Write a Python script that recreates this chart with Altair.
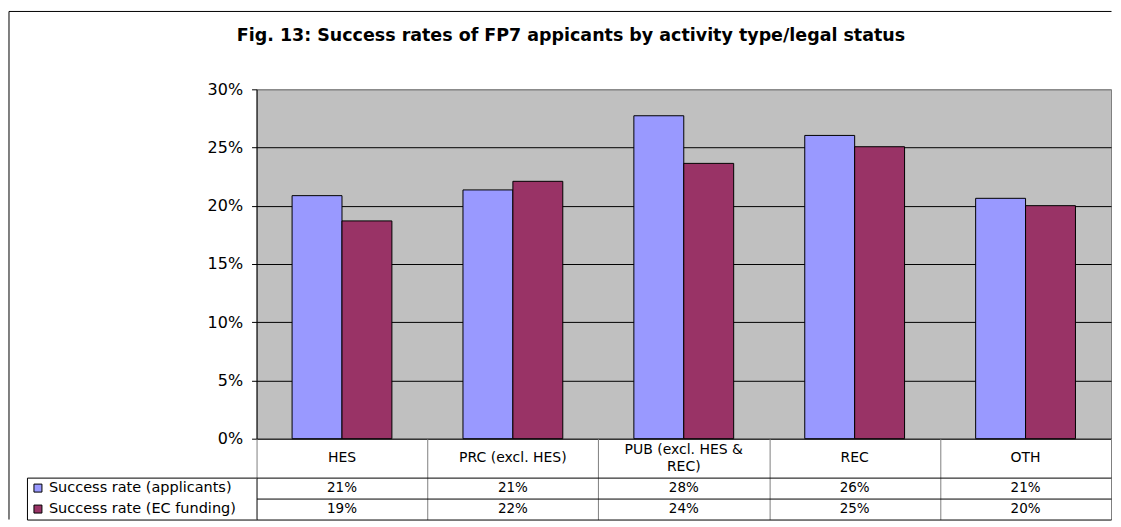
import altair as alt
import pandas as pd

# ---------------- data ----------------
categories = ["HES", "PRC (excl. HES)", "PUB (excl. HES & REC)", "REC", "OTH"]
header_labels = ["HES", "PRC (excl. HES)", "PUB (excl. HES &\nREC)", "REC", "OTH"]
series = ["Success rate (applicants)", "Success rate (EC funding)"]
applicants = [0.2087, 0.2136, 0.2773, 0.2604, 0.2064]
ec_funding = [0.1870, 0.2210, 0.2364, 0.2507, 0.2001]
colors = ["#9999FF", "#993366"]
y_ticks = [0, 0.05, 0.10, 0.15, 0.20, 0.25, 0.30]
title_text = "Fig. 13: Success rates of FP7 appicants by activity type/legal status"

FONT = "DejaVu Sans"

rows = []
for i, c in enumerate(categories):
    rows.append({"category": c, "series": series[0], "value": applicants[i]})
    rows.append({"category": c, "series": series[1], "value": ec_funding[i]})
df = pd.DataFrame(rows)

hdr_rows = []
for c, lab in zip(categories, header_labels):
    parts = lab.split("\n")
    for k, p in enumerate(parts):
        hdr_rows.append({"category": c, "line": p, "pos": k - (len(parts) - 1) / 2})
hdr = pd.DataFrame(hdr_rows)
leg = pd.DataFrame({"series": series})
dummy = pd.DataFrame({"a": [0]})

PLOT_W, PLOT_H = 856, 350
LEG_W = 230
HDR_H = 39
VAL_H = 42

x_scale = alt.Scale(domain=categories, paddingInner=0, paddingOuter=0)
color_scale = alt.Scale(domain=series, range=colors)
row_scale = alt.Scale(domain=series, paddingInner=0, paddingOuter=0)

no_stroke = alt.ViewBackground(stroke="transparent")

# ---------------- outer frame (top-left cell) ----------------
frame_top = alt.Chart(dummy).mark_rule(color="black", strokeWidth=1).encode(
    x=alt.value(-18), x2=alt.value(LEG_W + PLOT_W + 0.5), y=alt.value(-78)
)
frame_left = alt.Chart(dummy).mark_rule(color="black", strokeWidth=1).encode(
    x=alt.value(-18), y=alt.value(-78), y2=alt.value(PLOT_H + HDR_H + VAL_H)
)
frame = alt.layer(frame_top, frame_left).properties(
    width=LEG_W, height=PLOT_H, view=no_stroke
)

# ---------------- bars ----------------
bars = alt.Chart(df).mark_bar(stroke="black", strokeWidth=1).encode(
    x=alt.X("category:N", scale=x_scale, axis=None),
    xOffset=alt.XOffset(
        "series:N",
        scale=alt.Scale(domain=series, paddingInner=0, paddingOuter=0.712),
    ),
    y=alt.Y(
        "value:Q",
        scale=alt.Scale(domain=[0, 0.3], nice=False),
        axis=alt.Axis(
            values=y_ticks,
            format=".0%",
            title=None,
            labelFont=FONT,
            labelFontSize=16,
            labelColor="black",
            labelPadding=9,
            tickSize=5,
            tickColor="black",
            domainColor="black",
            grid=True,
            gridOpacity=1,
            gridWidth=1,
            gridColor={
                "condition": {"test": "datum.value >= 0.3", "value": "#808080"},
                "value": "#000000",
            },
        ),
    ),
    color=alt.Color("series:N", scale=color_scale, legend=None),
).properties(
    width=PLOT_W,
    height=PLOT_H,
    view=alt.ViewBackground(fill="#C0C0C0", stroke="#808080"),
    title=alt.TitleParams(
        text=title_text,
        font=FONT,
        fontSize=17.5,
        fontWeight="bold",
        color="black",
        anchor="middle",
        frame="group",
        dx=-113,
        offset=23,
        baseline="alphabetic",
    ),
)

# ---------------- table header ----------------
blank = alt.Chart(dummy).mark_point(opacity=0).encode(
    x=alt.value(0), y=alt.value(0)
).properties(width=LEG_W, height=HDR_H, view=no_stroke)

grid_x_axis = alt.Axis(
    grid=True,
    tickBand="extent",
    labels=False,
    ticks=False,
    domain=False,
    title=None,
    gridWidth=1,
    gridOpacity=1,
    gridColor="#808080",
)

header = alt.Chart(hdr).mark_text(
    font=FONT, fontSize=14, color="black", baseline="middle"
).encode(
    x=alt.X("category:N", scale=x_scale, axis=grid_x_axis),
    y=alt.Y("pos:Q", scale=alt.Scale(domain=[1.15, -1.15]), axis=None),
    text="line:N",
).properties(width=PLOT_W, height=HDR_H, view=no_stroke)

# ---------------- table values ----------------
grid_y_axis = alt.Axis(
    grid=True,
    tickBand="extent",
    labels=False,
    ticks=False,
    domain=False,
    title=None,
    gridWidth=1,
    gridOpacity=1,
    gridColor="#000000",
)

vals = alt.Chart(df).mark_text(font=FONT, fontSize=13.5, color="black").encode(
    x=alt.X("category:N", scale=x_scale, axis=grid_x_axis),
    y=alt.Y("series:N", scale=row_scale, axis=grid_y_axis),
    text=alt.Text("value:Q", format=".0%"),
).properties(width=PLOT_W, height=VAL_H, view=no_stroke)

# ---------------- legend column ----------------
leg_sq = alt.Chart(leg).mark_square(
    size=64, stroke="black", strokeWidth=1, opacity=1, filled=True
).encode(
    x=alt.value(11),
    y=alt.Y("series:N", scale=row_scale, axis=grid_y_axis),
    color=alt.Color("series:N", scale=color_scale, legend=None),
)
leg_txt = alt.Chart(leg).mark_text(
    align="left", font=FONT, fontSize=14.5, color="black"
).encode(
    x=alt.value(22),
    y=alt.Y("series:N", scale=row_scale, axis=None),
    text="series:N",
)
legend_cell = alt.layer(leg_sq, leg_txt).properties(
    width=LEG_W, height=VAL_H, view=alt.ViewBackground(stroke="black")
)

chart = alt.concat(
    frame, bars, blank, header, legend_cell, vals,
    columns=2, spacing=0, bounds="flush", align="each",
).properties(
    padding={"left": 0, "top": 2, "right": 0, "bottom": 0},
    background="white",
)

chart.save("out.html", embed_options={"renderer": "svg", "actions": False})
